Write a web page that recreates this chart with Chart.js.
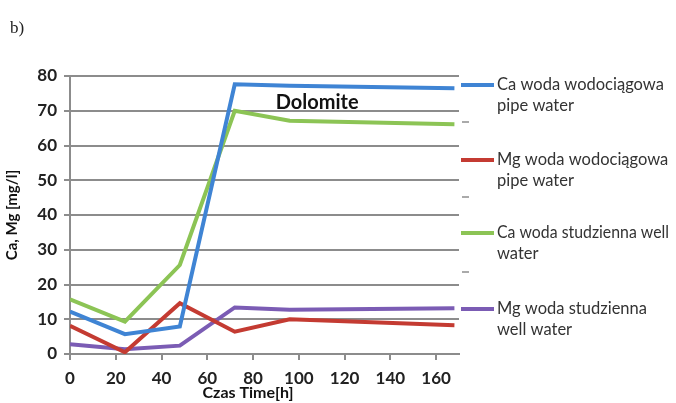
<!DOCTYPE html>
<html>
<head>
<meta charset="utf-8">
<script src="https://cdn.jsdelivr.net/npm/chart.js@4"></script>
<style>
  html, body { margin: 0; padding: 0; background: #fff; }
  #wrap { position: relative; width: 676px; height: 403px; }
  #tag { position: absolute; left: 10px; top: 18px; font: 17px "Liberation Serif", serif; color: #222; }
</style>
</head>
<body>
<div id="wrap">
  <div id="tag">b)</div>
  <canvas id="c" width="676" height="403"></canvas>
</div>
<script>
// Sampling times [h]
const hours = [0, 24, 48, 72, 96, 168];

// Concentrations [mg/l]
const caPipe = [12.2, 5.7, 7.9, 77.6, 77.2, 76.5];
const mgPipe = [8.1, 0.5, 14.6, 6.4, 10.0, 8.3];
const caWell = [15.7, 9.3, 25.6, 70.0, 67.1, 66.1];
const mgWell = [2.8, 1.4, 2.4, 13.4, 12.7, 13.2];

// Legend text, two lines per series
const seriesNames = [
  ["Ca woda wodociągowa", "pipe water"],
  ["Mg woda wodociągowa", "pipe water"],
  ["Ca woda studzienna well", "water"],
  ["Mg woda studzienna", "well water"]
];
const seriesColors = ["#3f84d4", "#c43b32", "#8cc455", "#7b5cb4"];

const xTicks = [0, 20, 40, 60, 80, 100, 120, 140, 160];
const yTicks = [0, 10, 20, 30, 40, 50, 60, 70, 80];

const toPoints = vals => hours.map((h, i) => ({ x: h, y: vals[i] }));
const allSeries = [caPipe, mgPipe, caWell, mgWell];

const datasets = allSeries.map((vals, i) => ({
  label: seriesNames[i].join(" "),
  data: toPoints(vals),
  borderColor: seriesColors[i],
  backgroundColor: seriesColors[i],
  borderWidth: 4,
  pointRadius: 0,
  tension: 0,
  fill: false
}));

// Annotation text, x-axis caption and the two-line legend on the right
const extras = {
  id: "extras",
  afterDraw(chart) {
    const ctx = chart.ctx;
    const xs = chart.scales.x, ys = chart.scales.y;
    ctx.save();
    ctx.fillStyle = "#111";
    ctx.font = "bold 20px Lato";
    ctx.textAlign = "center";
    ctx.textBaseline = "middle";
    ctx.fillText("Dolomite", xs.getPixelForValue(108), ys.getPixelForValue(72.5));

    ctx.font = "bold 16px Lato";
    ctx.fillText("Czas Time[h]", 248, 393);

    const legendTops = [85, 160, 233, 309];
    ctx.font = "16.5px Lato";
    ctx.textAlign = "left";
    chart.data.datasets.forEach((ds, i) => {
      const y = legendTops[i];
      ctx.strokeStyle = ds.borderColor;
      ctx.lineWidth = 4;
      ctx.beginPath();
      ctx.moveTo(461, y);
      ctx.lineTo(494, y);
      ctx.stroke();
      ctx.fillStyle = "#333";
      seriesNames[i].forEach((t, k) => ctx.fillText(t, 497, y + k * 21, 172));
    });

    // short separators between legend entries
    ctx.strokeStyle = "#aaa";
    ctx.lineWidth = 2;
    [122, 197, 272].forEach(y => {
      ctx.beginPath();
      ctx.moveTo(462, y);
      ctx.lineTo(469, y);
      ctx.stroke();
    });
    ctx.restore();
  }
};

new Chart(document.getElementById("c"), {
  type: "line",
  data: { datasets },
  options: {
    responsive: false,
    devicePixelRatio: 1,
    animation: false,
    layout: { padding: { left: 0, top: 76, right: 217, bottom: 0 } },
    plugins: { legend: { display: false }, tooltip: { enabled: false } },
    scales: {
      x: {
        type: "linear",
        min: 0,
        max: 170,
        afterBuildTicks: s => { s.ticks = xTicks.map(v => ({ value: v })); },
        afterFit: s => { s.height = 49; },
        border: { display: true, color: "#8c8c8c", width: 2 },
        grid: { drawOnChartArea: false, drawTicks: true, tickLength: 6, color: "#8c8c8c", lineWidth: 2 },
        ticks: { padding: 8, color: "#222", font: { family: "Lato", size: 17, weight: "bold" }, maxRotation: 0 },
        title: { display: false }
      },
      y: {
        min: 0,
        max: 80,
        afterBuildTicks: s => { s.ticks = yTicks.map(v => ({ value: v })); },
        afterFit: s => { s.width = 70; },
        border: { display: true, color: "#8c8c8c", width: 2 },
        grid: { drawTicks: true, tickLength: 6, color: "#8c8c8c", lineWidth: 2 },
        ticks: { padding: 7, color: "#222", font: { family: "Lato", size: 17, weight: "bold" } },
        title: { display: true, text: "Ca, Mg [mg/l]", color: "#111", font: { family: "Lato", size: 15, weight: "bold" }, padding: 3 }
      }
    }
  },
  plugins: [extras]
});
</script>
</body>
</html>
